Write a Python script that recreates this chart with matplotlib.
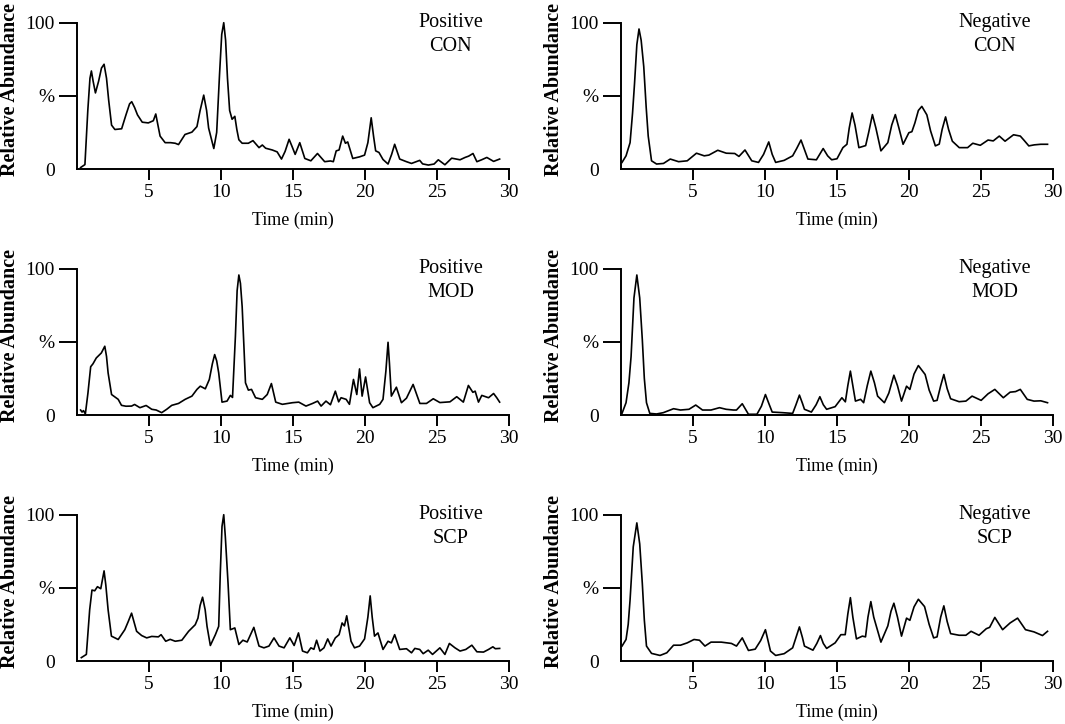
import matplotlib
matplotlib.use('Agg')
import matplotlib.pyplot as plt

plt.rcParams['font.family'] = ['Liberation Serif', 'DejaVu Serif']

# Positive CON
pos_con_t = [0.25, 0.55, 0.75, 0.9, 1.0, 1.12, 1.28, 1.5, 1.7, 1.88, 2.05, 2.2, 2.4, 2.63, 3.1, 3.4, 3.65, 3.8,
             4.0, 4.2, 4.53, 4.95, 5.3, 5.47, 5.6, 5.77, 6.12, 6.5, 6.82, 7.05, 7.5, 7.98, 8.33, 8.55, 8.8, 9.0,
             9.14, 9.5, 9.7, 9.9, 10.05, 10.19, 10.32, 10.45, 10.6, 10.77, 10.96, 11.1, 11.24, 11.47, 11.9, 12.22,
             12.64, 12.87, 13.1, 13.56, 13.9, 14.2, 14.45, 14.73, 14.95, 15.15, 15.47, 15.82, 16.24, 16.7, 17.2,
             17.6, 17.8, 18.0, 18.2, 18.45, 18.64, 18.8, 19.15, 19.62, 19.97, 20.2, 20.43, 20.6, 20.74, 20.97,
             21.25, 21.6, 21.85, 22.06, 22.41, 22.88, 23.23, 23.8, 24.0, 24.4, 24.8, 25.09, 25.55, 26.02, 26.6,
             26.95, 27.2, 27.5, 27.77, 28.1, 28.46, 28.93, 29.35]
pos_con_v = [1, 3, 40, 62, 67, 60, 52, 60, 69, 71.6, 62, 47, 30, 27, 27.5, 37, 44.5, 46,
             42, 37, 32, 31.5, 33, 37.6, 31, 22.5, 18, 18, 17.6, 16.7, 23.6, 25.2, 29, 40, 50.5, 40,
             28, 14, 25, 65, 92, 100, 88, 62, 40, 34, 36, 27, 20, 17.6, 17.6, 19.4,
             14.6, 16.4, 14.2, 13, 11.7, 6.8, 12, 20.3, 15, 10, 18, 7.2, 5.6, 10.6, 5,
             5.5, 5, 12.4, 13, 22.5, 17.6, 18.5, 7.2, 8.3, 9.5, 18, 35, 22, 12.4, 11.3,
             6.5, 3.4, 10, 16.9, 6.8, 5, 3.8, 5.9, 3.5, 2.7, 3.4, 6.3, 2.9, 7.4, 6.3,
             7.9, 8.8, 10.6, 5, 6.3, 7.9, 5.2, 6.8]

# Negative CON
neg_con_t = [0.07, 0.35, 0.63, 0.8, 0.94, 1.1, 1.25, 1.4, 1.58, 1.75, 1.89, 2.12, 2.47, 2.95, 3.42, 4.0, 4.6,
             5.24, 5.78, 6.1, 6.72, 7.31, 7.9, 8.19, 8.61, 9.08, 9.55, 9.9, 10.26, 10.5, 10.74, 11.33, 11.92,
             12.2, 12.5, 12.75, 12.98, 13.57, 14.04, 14.35, 14.63, 15.0, 15.41, 15.69, 15.85, 16.05, 16.25,
             16.52, 16.99, 17.2, 17.46, 17.7, 18.05, 18.53, 18.8, 19.05, 19.3, 19.59, 19.99, 20.2, 20.41,
             20.65, 20.89, 21.24, 21.5, 21.83, 22.1, 22.3, 22.54, 22.75, 23.01, 23.49, 24.07, 24.43, 24.95,
             25.49, 25.85, 26.27, 26.67, 27.26, 27.73, 28.0, 28.32, 28.7, 29.15, 29.62]
neg_con_v = [4.5, 9, 18, 38, 58.5, 85, 95.7, 88, 70, 42, 22.5, 5.6, 3.4, 3.8, 6.8, 5, 5.6,
             10.8, 9, 9.5, 12.8, 10.8, 10.6, 8.6, 13, 5.6, 4.5, 10, 18.5, 10, 4.5, 5.9, 9,
             14, 19.8, 13, 6.8, 6.3, 14, 9, 6.3, 7, 14.6, 16.9, 28, 38.3, 30,
             14.6, 16, 25, 37.2, 28, 12.4, 18, 30, 37.2, 28, 16.9, 24.8, 25.5, 31.5,
             40, 42.8, 37, 26, 15.8, 17, 27, 35.6, 27, 19, 14.6, 14.6, 17.6, 16.2,
             19.8, 19.2, 22.5, 19, 23.4, 22.5, 19.5, 15.8, 16.5, 16.9, 16.9]

# Positive MOD
pos_mod_t = [0.25, 0.35, 0.45, 0.58, 0.76, 0.95, 1.11, 1.34, 1.69, 1.93, 2.05, 2.16, 2.4, 2.86, 3.09, 3.4, 3.79,
             4.0, 4.37, 4.8, 5.19, 5.5, 5.88, 6.23, 6.58, 7.05, 7.51, 7.98, 8.33, 8.56, 8.91, 9.19, 9.4, 9.56,
             9.7, 9.84, 10.07, 10.42, 10.65, 10.8, 11.0, 11.12, 11.24, 11.35, 11.47, 11.6, 11.7, 11.9, 12.12,
             12.4, 12.87, 13.21, 13.5, 13.8, 14.26, 14.96, 15.4, 15.9, 16.36, 16.71, 16.95, 17.29, 17.6, 17.94,
             18.17, 18.34, 18.69, 18.92, 19.2, 19.43, 19.62, 19.8, 20.04, 20.32, 20.55, 21.02, 21.25, 21.45,
             21.6, 21.7, 21.83, 22.18, 22.53, 22.88, 23.34, 23.81, 24.27, 24.74, 25.2, 25.9, 26.37, 26.83,
             27.18, 27.49, 27.65, 27.88, 28.11, 28.58, 28.93, 29.15, 29.35]
pos_mod_v = [3.4, 2, 3, 0.7, 15, 33, 35, 39, 42.4, 47, 40, 28.8, 14, 10.7, 6.6, 6, 6.1,
             7.2, 5, 6.5, 3.9, 3.4, 1.6, 3.9, 6.6, 7.9, 10.7, 12.9, 17.5, 19.7, 17.9, 24.3, 35, 41.3,
             37, 28.8, 8.8, 9.5, 13.4, 12, 53.7, 85, 95.7, 90, 74, 45, 22, 17, 17.5,
             11.8, 10.7, 14, 21.5, 8.8, 7.3, 8.4, 8.8, 6.1, 7.9, 9.5, 6.1, 9.5, 7, 16.3,
             9, 11.8, 10.7, 7.3, 24.3, 14, 31.5, 12.9, 26, 8.4, 5, 7.3, 10.7, 30,
             49.7, 35, 12.9, 19, 8.4, 11.5, 20.9, 7.9, 7.9, 11.1, 8.5, 9, 12.5, 8.8,
             20.2, 15.5, 16.3, 8.8, 13.4, 11.8, 14.7, 11.8, 8.8]

# Negative MOD
neg_mod_t = [0.07, 0.35, 0.55, 0.7, 0.9, 1.1, 1.3, 1.48, 1.62, 1.77, 2.0, 2.47, 2.94, 3.65, 4.13, 4.72, 5.19,
             5.66, 6.25, 6.84, 7.3, 7.8, 8.02, 8.42, 8.85, 9.44, 9.75, 10.03, 10.3, 10.5, 11.21, 11.92, 12.15,
             12.39, 12.6, 12.74, 13.22, 13.55, 13.81, 14.05, 14.28, 14.87, 15.34, 15.58, 15.75, 15.93, 16.1,
             16.28, 16.64, 16.85, 17.1, 17.35, 17.6, 17.82, 18.29, 18.6, 18.95, 19.2, 19.48, 19.83, 20.06,
             20.35, 20.65, 21.12, 21.4, 21.71, 21.95, 22.2, 22.42, 22.65, 22.89, 23.48, 23.95, 24.38, 25.01,
             25.49, 25.96, 26.55, 27.02, 27.4, 27.73, 28.21, 28.68, 29.15, 29.62]
neg_mod_v = [1.1, 8.4, 22, 40, 80, 95.7, 80, 51.5, 25, 8.4, 1.1, 0.7, 1.6, 4.3, 3.4, 3.9, 6.8,
             3.4, 3.4, 5, 3.9, 3.4, 3.4, 7.7, 0.5, 0.5, 6, 14, 7, 2, 1.6, 1.1, 7,
             13.6, 8, 3.9, 2, 7, 12.5, 7, 3.9, 5.7, 11.8, 9, 20, 30, 20,
             9.5, 10.7, 8.4, 20, 30, 22, 12.9, 8.4, 15, 27.2, 20, 9.5, 19.7, 17.5,
             28, 33.8, 27.7, 17, 9.5, 10, 20, 27.7, 18, 11.1, 9.1, 9.5, 12.9, 10,
             14.5, 17.5, 11.8, 15.6, 16, 17.5, 10.7, 9.5, 9.7, 8.4]

# Positive SCP
pos_scp_t = [0.3, 0.65, 0.88, 1.04, 1.23, 1.42, 1.65, 1.88, 2.0, 2.16, 2.39, 2.86, 3.32, 3.56, 3.79, 4.14, 4.49,
             4.84, 5.19, 5.65, 5.84, 6.16, 6.47, 6.82, 7.28, 7.75, 8.21, 8.4, 8.55, 8.72, 8.9, 9.03, 9.26, 9.61,
             9.84, 9.95, 10.07, 10.19, 10.3, 10.49, 10.65, 10.96, 11.24, 11.52, 11.82, 12.05, 12.28, 12.64,
             12.98, 13.33, 13.68, 14.03, 14.38, 14.78, 15.08, 15.38, 15.66, 16.0, 16.24, 16.45, 16.64, 16.87,
             17.15, 17.41, 17.64, 17.94, 18.2, 18.41, 18.57, 18.73, 19.03, 19.27, 19.62, 19.97, 20.2, 20.36,
             20.5, 20.66, 20.9, 21.25, 21.6, 21.83, 22.06, 22.41, 22.88, 23.23, 23.46, 23.8, 24.04, 24.39,
             24.69, 25.2, 25.55, 25.86, 26.25, 26.6, 27.0, 27.42, 27.77, 28.23, 28.58, 28.88, 29.05, 29.35]
pos_scp_v = [2.3, 4.5, 35, 48.5, 48, 50.8, 49.4, 61.6, 52, 35, 17, 14.7, 21.4, 27, 32.7, 20.3, 17.4,
             15.8, 16.8, 16.5, 18, 13.5, 14.8, 13.5, 14.2, 20.3, 24.8, 29.3, 38, 43.6, 35, 23.7, 10.6, 18,
             23.7, 60, 92, 100, 85, 53, 21.4, 22.6, 11.3, 14.2, 13, 18, 23, 10.2,
             9, 10.2, 15.8, 10.2, 9, 15.8, 10.6, 19.2, 6.8, 5.6, 9, 8, 14.2, 6.8,
             9, 15.1, 10.2, 15.8, 18, 26, 24, 30.9, 13.5, 9, 10.2, 15.1, 30, 44.5,
             30, 17, 19.2, 7.9, 13.5, 12.4, 18, 7.9, 8.4, 5.6, 8.6, 7.9, 5, 7.4,
             4.5, 9, 4.5, 12, 9, 6.8, 7.9, 10.8, 6.3, 6.1, 7.9, 9.7, 8.4, 8.6]

# Negative SCP
neg_scp_t = [0.07, 0.35, 0.5, 0.63, 0.85, 1.1, 1.3, 1.48, 1.62, 1.77, 2.12, 2.71, 3.18, 3.65, 4.13, 4.6, 5.07,
             5.45, 5.83, 6.25, 6.96, 7.67, 8.02, 8.42, 8.85, 9.32, 9.7, 10.03, 10.38, 10.74, 11.33, 11.92,
             12.15, 12.39, 12.6, 12.74, 13.33, 13.6, 13.85, 14.05, 14.28, 14.87, 15.27, 15.57, 15.75, 15.93,
             16.1, 16.35, 16.76, 16.98, 17.15, 17.35, 17.55, 18.05, 18.53, 18.75, 18.95, 19.2, 19.48, 19.83,
             20.06, 20.35, 20.65, 21.08, 21.4, 21.71, 21.95, 22.2, 22.42, 22.65, 22.89, 23.48, 23.95, 24.31,
             24.86, 25.37, 25.6, 25.96, 26.5, 27.02, 27.54, 28.09, 28.68, 29.27, 29.62]
neg_scp_v = [10.2, 14.7, 25, 41.8, 78, 94.4, 80, 53, 28, 10.2, 5.2, 3.8, 5.6, 10.8, 10.8, 12.4, 14.7,
             14.2, 10.2, 12.9, 12.9, 12, 10.2, 15.8, 7.2, 8.1, 14, 21.4, 6.8, 3.8, 5, 9,
             16, 23.3, 16, 10.2, 7.4, 12, 17.4, 12, 8.6, 12.4, 18, 18, 32, 43.3,
             30, 15.1, 17, 16.5, 30, 40.6, 30, 12.9, 24, 34, 39.5, 30, 17, 29.3,
             27.8, 37, 42.2, 37.2, 25, 15.8, 16.5, 30, 37.7, 27, 18.7, 17.6, 17.6, 20.3,
             17.6, 22.1, 23, 29.8, 21.4, 26, 29.3, 21.4, 19.9, 17.4, 20.3]

modes = ['Positive', 'Negative']
groups = ['CON', 'MOD', 'SCP']
series = [
    [(pos_con_t, pos_con_v), (neg_con_t, neg_con_v)],
    [(pos_mod_t, pos_mod_v), (neg_mod_t, neg_mod_v)],
    [(pos_scp_t, pos_scp_v), (neg_scp_t, neg_scp_v)],
]

W, H = 1065, 724
fig = plt.figure(figsize=(W / 100, H / 100), dpi=100)

# pixel positions of the axes (x of t=0, y of 100 %)
col_x = [77, 621]
row_top = [22.7, 268.7, 514.7]
ax_w, ax_h = 432, 146.3

for r in range(3):
    for c in range(2):
        left = col_x[c] / W
        bottom = (H - row_top[r] - ax_h) / H
        ax = fig.add_axes([left, bottom, ax_w / W, ax_h / H])
        t, v = series[r][c]
        ax.plot(t, v, color='black', linewidth=1.2, clip_on=False, solid_joinstyle='round')

        ax.set_xlim(0, 30)
        ax.set_ylim(0, 100)
        ax.spines['top'].set_visible(False)
        ax.spines['right'].set_visible(False)
        ax.spines['left'].set_linewidth(1.4)
        ax.spines['bottom'].set_linewidth(1.4)

        ax.set_xticks([5, 10, 15, 20, 25, 30])
        ax.set_yticks([0, 50, 100])
        ax.set_yticklabels(['0', '%', '100'])
        ax.tick_params(axis='x', direction='out', length=8, width=1.4, pad=3, labelsize=14)
        ax.tick_params(axis='y', direction='out', length=13, width=1.4, pad=3, labelsize=14)
        ax.yaxis.get_major_ticks()[0].tick1line.set_visible(False)

        ax.set_xlabel('Time (min)', fontsize=13)
        ax.xaxis.set_label_coords(0.5, -0.29)
        ax.set_ylabel('Relative Abundance', fontsize=14.5, fontweight='bold')
        ax.yaxis.set_label_coords(-0.132, 0.54)

        ax.text(0.865, 0.92, modes[c] + '\n' + groups[r], transform=ax.transAxes,
                ha='center', va='center', fontsize=14.5, linespacing=1.3)

fig.savefig('out.png', dpi=100)
